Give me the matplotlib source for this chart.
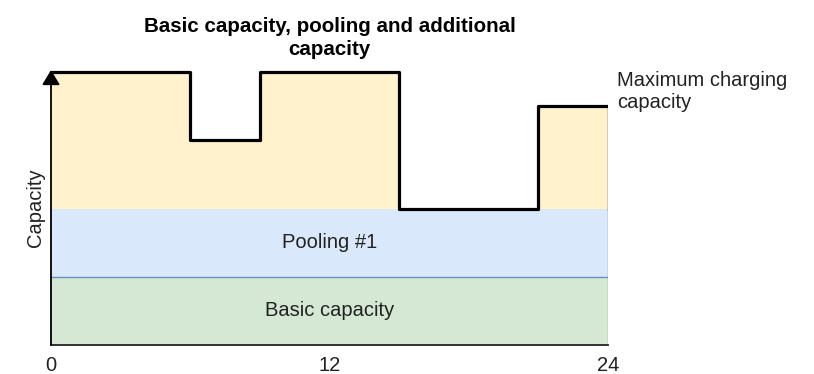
import matplotlib
matplotlib.use("Agg")
import matplotlib.pyplot as plt
import numpy as np

plt.rcParams['font.family'] = ['Liberation Sans', 'DejaVu Sans']

# Time axis (hours) and capacity levels
hour_edges = [0, 6, 9, 15, 21, 24]
max_charging = [4.0, 3.0, 4.0, 2.0, 3.5]
basic_capacity = 1.0
pooling_top = 2.0
x_ticks = [0, 12, 24]
x_tick_labels = ["0", "12", "24"]

title = "Basic capacity, pooling and additional\ncapacity"
band_labels = ["Basic capacity", "Pooling #1"]
max_label = "Maximum charging\ncapacity"

fig = plt.figure(figsize=(8.14, 3.74), dpi=100)
ax = fig.add_axes([51 / 814, 29 / 374, 557 / 814, 275 / 374])

x0, x1 = hour_edges[0], hour_edges[-1]
ax.set_xlim(x0, x1)
ax.set_ylim(0, 4.03)

# Stacked bands
ax.fill_between([x0, x1], 0, basic_capacity, color="#d5e8d4", lw=0, zorder=1)
ax.fill_between([x0, x1], basic_capacity, pooling_top, color="#dae8fc", lw=0, zorder=1)
ax.plot([x0, x1], [basic_capacity] * 2, color="#6c8ebf", lw=1.0, zorder=2)
ax.plot([x1, x1], [0, basic_capacity], color="#82b366", lw=1.0, zorder=2)
ax.plot([x1, x1], [basic_capacity, pooling_top], color="#6c8ebf", lw=1.0, zorder=2)

# Additional capacity up to the maximum charging line
xs = np.array(hour_edges, dtype=float)
ys = np.array(max_charging + [max_charging[-1]], dtype=float)
ax.fill_between(xs, pooling_top, ys, step="post", color="#fff2cc", lw=0, zorder=1)
ax.plot([x1, x1], [pooling_top, max_charging[-1]], color="#333333", lw=1.0, zorder=2)
ax.step(xs, ys, where="post", color="black", lw=2.3, zorder=4,
        solid_joinstyle="round", solid_capstyle="butt")

# Band labels
ax.text((x0 + x1) / 2, basic_capacity / 2, band_labels[0], ha="center", va="center",
        fontsize=14.5, color="#222222", zorder=5)
ax.text((x0 + x1) / 2, (basic_capacity + pooling_top) / 2, band_labels[1], ha="center",
        va="center", fontsize=14.5, color="#222222", zorder=5)

# Maximum charging label
ax.text(x1 + 0.4, 4.02, max_label, ha="left", va="top", fontsize=14.5,
        color="#222222", linespacing=1.2, clip_on=False)

# Axes styling
for side in ("top", "right", "left"):
    ax.spines[side].set_visible(False)
ax.spines["bottom"].set_linewidth(1.3)
ax.spines["bottom"].set_color("#222222")
ax.spines["bottom"].set_zorder(6)
ax.annotate("", xy=(0, 1.0), xytext=(0, 0), xycoords="axes fraction",
            arrowprops=dict(arrowstyle="-|>,head_length=0.5,head_width=0.3",
                            color="black", lw=1.3,
                            mutation_scale=18, shrinkA=0, shrinkB=0),
            zorder=7, annotation_clip=False)

ax.set_xticks(x_ticks)
ax.set_xticklabels(x_tick_labels, fontsize=14.5, color="#222222")
ax.tick_params(axis="x", length=0, pad=8)
ax.set_yticks([])
ax.set_ylabel("Capacity", fontsize=14.5, color="#222222", labelpad=4)

ax.set_title(title, fontsize=14.8, fontweight="bold", pad=11, linespacing=1.28)

fig.savefig("out.png", dpi=100)
